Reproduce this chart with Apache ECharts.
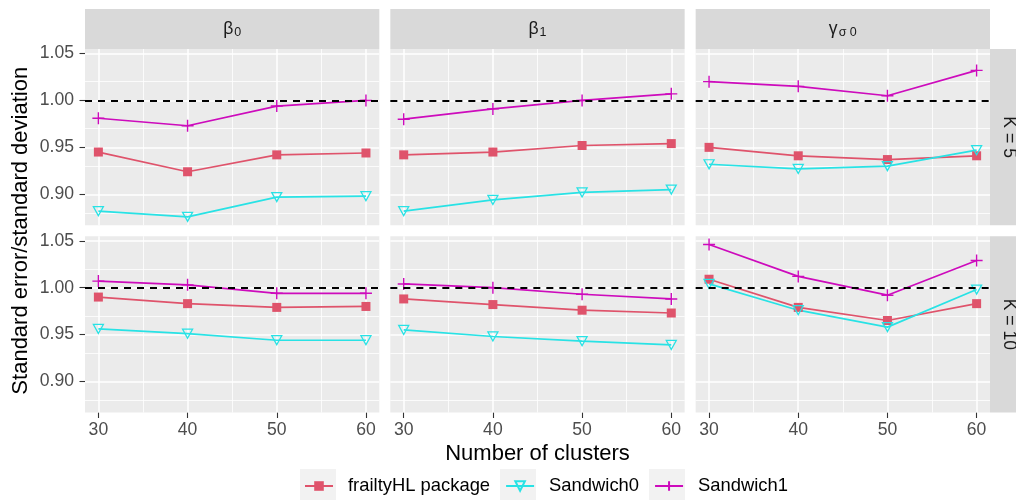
<!DOCTYPE html>
<html>
<head>
<meta charset="utf-8">
<script src="https://cdn.jsdelivr.net/npm/echarts@6/dist/echarts.min.js"></script>
<style>
  html, body { margin: 0; padding: 0; background: #ffffff; }
  #chart { width: 1016px; height: 500px; }
</style>
</head>
<body>
<div id="chart"></div>
<script>
// x values shared by every panel
const clusters = [30, 40, 50, 60];
const xTicks = [30, 40, 50, 60];
const xMinor = [35, 45, 55];
const yTicks = [0.90, 0.95, 1.00, 1.05];
const yMinor = [0.875, 0.925, 0.975, 1.025];

const columnLabels = ['{a|β}{s|0}', '{a|β}{s|1}', '{a|γ}{s|σ 0}'];
const rowLabels = ['K = 5', 'K = 10'];
const seriesNames = ['frailtyHL package', 'Sandwich0', 'Sandwich1'];

// Ratio SE / SD per panel, panels ordered:
// K = 5 (β0, β1, γσ0), then K = 10 (β0, β1, γσ0)
const frailtyHL = [
  [0.945, 0.924, 0.942, 0.944],
  [0.942, 0.945, 0.952, 0.954],
  [0.950, 0.941, 0.937, 0.941],
  [0.990, 0.983, 0.979, 0.980],
  [0.988, 0.982, 0.976, 0.973],
  [1.009, 0.979, 0.965, 0.983]
];
const sandwich0 = [
  [0.882, 0.876, 0.897, 0.898],
  [0.882, 0.894, 0.902, 0.905],
  [0.932, 0.927, 0.930, 0.947],
  [0.956, 0.951, 0.944, 0.944],
  [0.955, 0.948, 0.943, 0.939],
  [1.004, 0.976, 0.958, 0.998]
];
const sandwich1 = [
  [0.981, 0.973, 0.994, 1.000],
  [0.980, 0.991, 1.000, 1.007],
  [1.020, 1.015, 1.005, 1.032],
  [1.007, 1.003, 0.994, 0.994],
  [1.004, 1.000, 0.993, 0.988],
  [1.046, 1.012, 0.992, 1.029]
];
const referenceLevel = 1.0;

const FONT = 'Liberation Sans, Arial, Helvetica, sans-serif';
const colors = ['#DF536B', '#28E2E5', '#CD0BBC'];
const seriesValues = [frailtyHL, sandwich0, sandwich1];

// panel geometry (pixels)
const panelLeft = [85, 390.33, 695.67];
const panelW = 294.33;
const panelTop = [49, 236.25];
const panelH = 176.25;
const stripSize = 40;
const xRange = [28.5, 61.5];
const yRange = [0.867, 1.0548];

const grids = [], xAxes = [], yAxes = [], series = [], graphics = [];

const symbolSpec = [
  { symbol: 'rect', symbolSize: 9, itemStyle: { color: colors[0] } },
  { symbol: 'triangle', symbolSize: [10, 9], symbolRotate: 180,
    itemStyle: { color: 'rgba(0,0,0,0)', borderColor: colors[1], borderWidth: 1.3 } },
  { symbol: 'path://M5,0L5,10M0,5L10,5', symbolSize: 12,
    itemStyle: { color: 'rgba(0,0,0,0)', borderColor: colors[2], borderWidth: 1.4 } }
];

for (let r = 0; r < 2; r++) {
  for (let c = 0; c < 3; c++) {
    const p = r * 3 + c;
    grids.push({
      left: panelLeft[c], top: panelTop[r], width: panelW, height: panelH,
      show: true, backgroundColor: '#EBEBEB', borderWidth: 0
    });
    xAxes.push({
      gridIndex: p, type: 'value', min: xRange[0], max: xRange[1],
      axisLine: { show: false },
      axisTick: { show: r === 1, customValues: xTicks, length: 5.5,
        lineStyle: { color: '#333333', width: 1.1 } },
      axisLabel: { show: r === 1, customValues: xTicks, color: '#4D4D4D',
        fontSize: 17.6, fontFamily: FONT, margin: 9 },
      splitLine: { show: false }
    });
    yAxes.push({
      gridIndex: p, type: 'value', min: yRange[0], max: yRange[1],
      axisLine: { show: false },
      axisTick: { show: c === 0, customValues: yTicks, length: 5.5,
        lineStyle: { color: '#333333', width: 1.1 } },
      axisLabel: { show: c === 0, customValues: yTicks, color: '#4D4D4D',
        fontSize: 17.6, fontFamily: FONT, margin: 11,
        formatter: v => v.toFixed(2) },
      splitLine: { show: false }
    });

    // panel grid lines, kept underneath the data
    const gridLines = [];
    xMinor.forEach(v => gridLines.push({ xAxis: v, lineStyle: { width: 0.8 } }));
    yMinor.forEach(v => gridLines.push({ yAxis: v, lineStyle: { width: 0.8 } }));
    xTicks.forEach(v => gridLines.push({ xAxis: v, lineStyle: { width: 1.5 } }));
    yTicks.forEach(v => gridLines.push({ yAxis: v, lineStyle: { width: 1.5 } }));
    series.push({
      type: 'line', xAxisIndex: p, yAxisIndex: p, data: [], z: 1, silent: true,
      markLine: {
        z: 1, silent: true, symbol: 'none', animation: false,
        label: { show: false },
        lineStyle: { color: '#FFFFFF', type: 'solid', width: 1.5, opacity: 1 },
        emphasis: { disabled: true },
        data: gridLines
      }
    });

    // the three methods
    for (let s = 0; s < 3; s++) {
      series.push(Object.assign({
        type: 'line', name: seriesNames[s], xAxisIndex: p, yAxisIndex: p,
        data: clusters.map((x, i) => [x, seriesValues[s][p][i]]),
        color: colors[s],
        lineStyle: { color: colors[s], width: 1.7 },
        showSymbol: true, z: 3, animation: false
      }, symbolSpec[s]));
    }

    // reference line at 1
    series.push({
      type: 'line', xAxisIndex: p, yAxisIndex: p, data: [], z: 6, silent: true,
      markLine: {
        z: 6, silent: true, symbol: 'none', animation: false,
        label: { show: false },
        lineStyle: { color: '#000000', type: [7, 6], width: 1.9, opacity: 1 },
        emphasis: { disabled: true },
        data: [{ yAxis: referenceLevel }]
      }
    });
  }
}

// column strips
for (let c = 0; c < 3; c++) {
  graphics.push({
    type: 'rect', z: 0,
    shape: { x: panelLeft[c], y: panelTop[0] - stripSize, width: panelW, height: stripSize },
    style: { fill: '#D9D9D9' }
  });
  graphics.push({
    type: 'text', z: 1,
    x: panelLeft[c] + panelW / 2, y: panelTop[0] - stripSize / 2,
    style: {
      text: columnLabels[c], align: 'center', verticalAlign: 'middle',
      fill: '#1A1A1A', font: '17.6px ' + FONT,
      rich: {
        a: { fontSize: 17.6, fontFamily: FONT, fill: '#1A1A1A', lineHeight: 24 },
        s: { fontSize: 12.5, fontFamily: FONT, fill: '#1A1A1A', lineHeight: 16, padding: [8, 0, 0, 1] }
      }
    }
  });
}
// row strips
const stripX = panelLeft[2] + panelW;
for (let r = 0; r < 2; r++) {
  graphics.push({
    type: 'rect', z: 0,
    shape: { x: stripX, y: panelTop[r], width: stripSize, height: panelH },
    style: { fill: '#D9D9D9' }
  });
  graphics.push({
    type: 'text', z: 1,
    x: stripX + stripSize / 2 - 1.5, y: panelTop[r] + panelH / 2,
    rotation: -Math.PI / 2,
    style: {
      text: rowLabels[r], align: 'center', verticalAlign: 'middle',
      fill: '#1A1A1A', font: '17.6px ' + FONT
    }
  });
}
// axis titles
graphics.push({
  type: 'text', x: (panelLeft[0] + panelLeft[2] + panelW) / 2, y: 454,
  style: { text: 'Number of clusters', align: 'center', verticalAlign: 'middle',
    fill: '#000000', font: '22px ' + FONT }
});
graphics.push({
  type: 'text', x: 21, y: panelTop[0] + (panelTop[1] + panelH - panelTop[0]) / 2,
  rotation: Math.PI / 2,
  style: { text: 'Standard error/standard deviation', align: 'center', verticalAlign: 'middle',
    fill: '#000000', font: '22px ' + FONT }
});
// legend key backgrounds
[300, 500, 649].forEach(x => {
  graphics.push({
    type: 'rect', z: 0,
    shape: { x: x, y: 469, width: 36, height: 35 },
    style: { fill: '#F2F2F2' }
  });
});

const chart = echarts.init(document.getElementById('chart'), null, { renderer: 'canvas' });
chart.setOption({
  animation: false,
  backgroundColor: '#FFFFFF',
  grid: grids,
  xAxis: xAxes,
  yAxis: yAxes,
  series: series,
  legend: {
    data: seriesNames, left: 304, top: 477, padding: 0,
    itemWidth: 28, itemHeight: 12, itemGap: 15,
    textStyle: { fontSize: 18.4, color: '#000000', fontFamily: FONT, padding: [0, 0, 0, 10] }
  },
  graphic: { elements: graphics }
});
</script>
</body>
</html>
